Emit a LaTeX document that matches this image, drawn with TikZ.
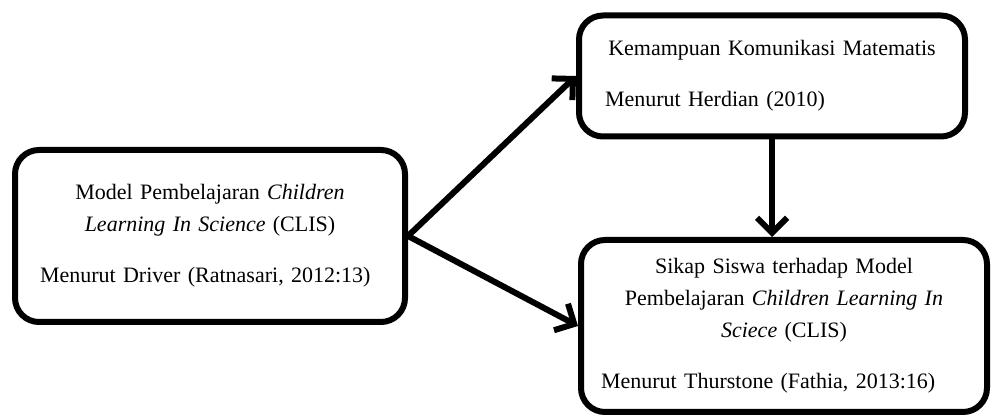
\documentclass[tikz,border=0pt]{standalone}
\usepackage{fontspec}
\setmainfont{Liberation Serif}
\usetikzlibrary{arrows.meta}
\tikzset{
  box/.style={draw, line width=6pt, rounded corners=24pt, inner sep=0pt,
    font=\fontsize{22}{32}\selectfont},
  link/.style={line width=6pt, -{Straight Barb[length=15pt,width=30pt]}}
}

\begin{document}
\begin{tikzpicture}[x=1pt,y=-1pt]
\useasboundingbox (0,0) rectangle (997,419);

% model box (left)
\node[box, minimum width=390pt, minimum height=172pt, text width=340pt] (model) at (210,236)
  {\centering Model Pembelajaran \textit{Children}\\
   \textit{Learning In Science} (CLIS)\par\vspace{19pt}
   \raggedright Menurut Driver (Ratnasari, 2012:13)\par};

% komunikasi box (top right)
\node[box, minimum width=386pt, minimum height=121pt, text width=334pt] (komunikasi) at (772,76)
  {\centering Kemampuan Komunikasi Matematis\par\vspace{19pt}
   \raggedright Menurut Herdian (2010)\par};

% sikap box (bottom right)
\node[box, minimum width=406pt, minimum height=172pt, text width=366pt] (sikap) at (784,326)
  {\centering Sikap Siswa terhadap Model\\
   Pembelajaran \textit{Children Learning In}\\
   \textit{Sciece} (CLIS)\par\vspace{19pt}
   \raggedright Menurut Thurstone (Fathia, 2013:16)\par};

% arrows
\draw[link] (model.east) -- (komunikasi.west);
\draw[link] (model.east) -- (sikap.west);
\draw[link] (komunikasi.south) -- (komunikasi.south |- sikap.north);

\end{tikzpicture}
\end{document}
